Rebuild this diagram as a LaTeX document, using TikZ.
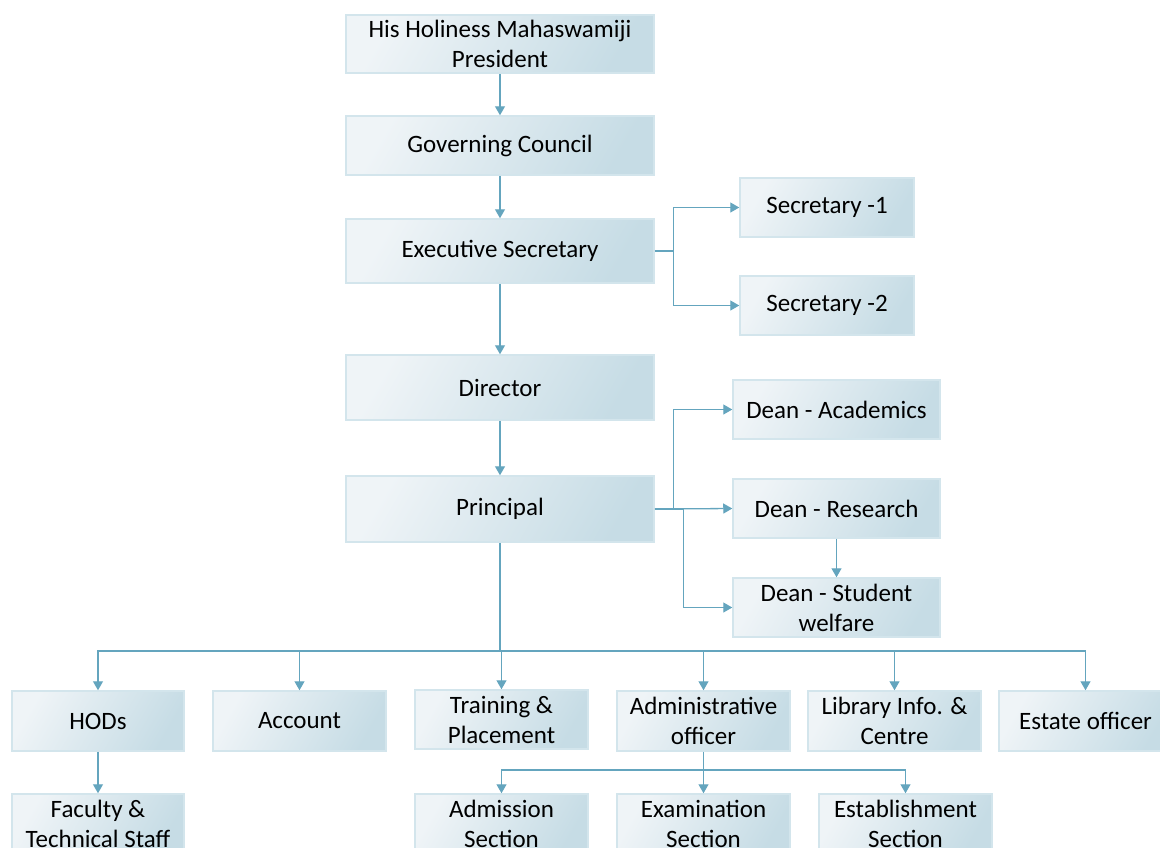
\documentclass[tikz,border=0pt]{standalone}
\usepackage{fontspec}
\setmainfont{Carlito}
\usetikzlibrary{arrows.meta}
\definecolor{lnc}{HTML}{64A5BE}
\definecolor{boxA}{HTML}{EFF4F7}
\definecolor{boxB}{HTML}{C6DCE5}
\definecolor{boxedge}{HTML}{D3E5EC}
\begin{document}
\begin{tikzpicture}[x=1pt,y=-1pt,
  orgbox/.style={draw=boxedge, line width=1.5pt, left color=boxA, right color=boxB, shading angle=60,
    align=center, inner sep=0pt, font=\fontsize{25}{30}\selectfont, text=black},
  wide/.style={orgbox, minimum width=308pt, minimum height=59pt},
  mid/.style={orgbox, minimum width=207pt, minimum height=59pt},
  small/.style={orgbox, minimum width=173pt, minimum height=60pt},
  conn/.style={draw=lnc, line width=1.3pt, -{Triangle[length=9pt,width=10pt]}},
  plain/.style={draw=lnc, line width=1.3pt}]
\useasboundingbox (0,0) rectangle (1160,847);
\clip (0,0) rectangle (1160,847);
\fill[white] (0,0) rectangle (1160,847);

\node[wide, minimum height=58pt] (pres) at (500,44) {His Holiness Mahaswamiji\\President};
\node[wide] (gc) at (500,145.5) {Governing Council};
\node[wide, minimum height=64pt] (es) at (500,251) {Executive Secretary};
\node[orgbox, minimum width=174pt, minimum height=59pt] (sec1) at (827,207.5) {Secretary -1};
\node[orgbox, minimum width=174pt, minimum height=59pt] (sec2) at (827,305.5) {Secretary -2};
\node[wide, minimum height=65pt] (dir) at (500,387.5) {Director};
\node[wide, minimum height=66pt] (prin) at (500,509) {Principal};
\node[mid] (deanA) at (836.5,409.5) {Dean - Academics};
\node[mid] (deanR) at (836.5,508.5) {Dean - Research};
\node[mid] (deanS) at (836.5,607.5) {Dean - Student\\welfare};

\node[small, minimum width=172pt] (hods) at (98,721) {HODs};
\node[small] (acc) at (299.5,721) {Account};
\node[small, minimum height=59pt] (tp) at (501.5,719.5) {Training \&\\Placement};
\node[small] (adm) at (703.5,721) {Administrative\\officer};
\node[small] (lib) at (894.5,721) {Library Info. \&\\Centre};
\node[small] (est) at (1085.5,721) {Estate officer};

\node[small, minimum width=172pt] (fac) at (98,824) {Faculty \&\\Technical Staff};
\node[small] (admis) at (501.5,824) {Admission\\Section};
\node[small] (exam) at (703.5,824) {Examination\\Section};
\node[small] (estab) at (905.5,824) {Establishment\\Section};

\draw[conn] (pres) -- (gc);
\draw[conn] (gc) -- (es);
\draw[conn] (es) -- (dir);
\draw[conn] (dir) -- (prin);

\draw[conn] (es.east) -- ++(19,0) |- (sec1.west);
\draw[conn] (es.east) -- ++(19,0) |- (sec2.west);

\draw[conn] (prin.east) -- ++(19,0) |- (deanA.west);
\draw[conn] (prin.east) -- (deanR.west);
\draw[conn] (prin.east) -- ++(29,0) |- (deanS.west);
\draw[conn] (deanR) -- (deanS);

\coordinate (bus) at (500,651);
\draw[plain] (prin.south) -- (bus);
\draw[conn] (bus) -| (hods.north);
\draw[conn] (bus) -| (acc.north);
\draw[conn] (bus) -| (tp.north);
\draw[conn] (bus) -| (adm.north);
\draw[conn] (bus) -| (lib.north);
\draw[conn] (bus) -| (est.north);

\draw[conn] (hods) -- (fac);

\coordinate (sub) at (703.5,770);
\draw[plain] (adm.south) -- (sub);
\draw[conn] (sub) -| (admis.north);
\draw[conn] (sub) -- (exam.north);
\draw[conn] (sub) -| (estab.north);
\end{tikzpicture}
\end{document}
